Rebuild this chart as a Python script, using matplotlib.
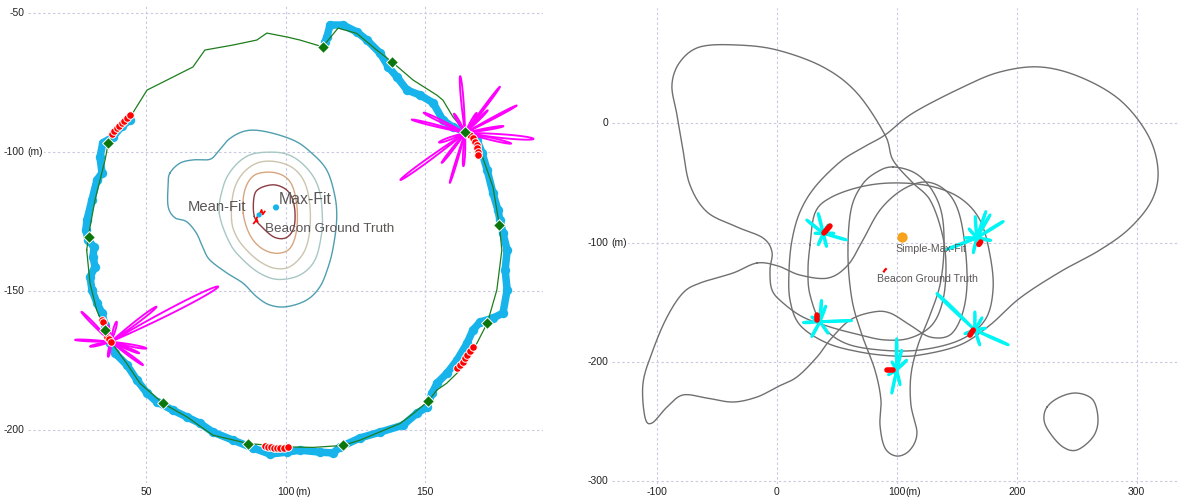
import numpy as np
import matplotlib
matplotlib.use("Agg")
import matplotlib.pyplot as plt
import matplotlib.transforms as mtransforms

plt.rcParams['font.family'] = ['Liberation Sans', 'DejaVu Sans']

# ---------------- left panel: walk around the beacon (metres) ----------------
# planned route (green line) with waypoint markers
route = np.array([
    (28.5, -135.4), (29.2, -130.6), (29.7, -127.2), (31.5, -117.4), (33.3, -110.2),
    (35.1, -103.1), (36.3, -96.8), (45.1, -86.1), (50.2, -77.9), (53.8, -76.1),
    (66.7, -69.6), (71.0, -63.5), (81.1, -61.7), (89.7, -59.9), (93.3, -57.4),
    (100.5, -58.8), (105.2, -59.9), (111.2, -61.7), (113.4, -62.3), (118.9, -55.6),
    (125.6, -57.5), (132.8, -63.5), (138.2, -67.7), (145.9, -74.3), (154.4, -79.7),
    (156.6, -81.5), (160.2, -87.5), (164.6, -92.9), (170.0, -99.5), (174.6, -112.7),
    (176.9, -126.4), (177.8, -135.4), (176.0, -149.8), (172.6, -161.6), (168.8, -169.0),
    (162.8, -178.6), (158.0, -183.3), (154.4, -185.8), (151.4, -189.7), (146.0, -194.2),
    (141.2, -197.8), (134.0, -200.8), (126.8, -203.8), (120.6, -205.7), (109.9, -206.4),
    (100.4, -206.2), (86.6, -205.0), (73.9, -202.0), (64.5, -195.4), (56.0, -190.6),
    (47.7, -183.4), (42.9, -176.2), (37.5, -168.8), (35.1, -164.0), (32.1, -157.0),
    (29.7, -147.4), (28.5, -135.4)])

waypoints = np.array([
    (29.2, -130.6), (36.3, -96.8), (113.4, -62.3), (138.2, -67.7), (164.6, -92.9),
    (176.9, -126.4), (172.6, -161.6), (151.4, -189.7), (120.6, -205.7), (86.6, -205.0),
    (56.0, -190.6), (35.1, -164.0)])

# recorded GPS track (blue)
gps_track = np.array([
    (44.1, -88.7), (41.2, -90.8), (37.9, -94.8), (34.3, -96.9), (33.3, -102.0),
    (34.0, -107.7), (32.2, -110.2), (30.4, -117.4), (28.6, -124.6), (28.2, -128.2),
    (29.0, -131.8), (31.1, -134.3), (30.8, -137.9), (31.5, -141.5), (29.7, -145.1),
    (30.4, -149.8), (32.2, -154.5), (34.0, -158.1), (35.1, -162.4), (36.9, -168.9),
    (38.7, -172.5), (43.0, -176.8), (46.6, -182.2), (50.2, -186.9), (53.8, -190.1),
    (59.5, -193.0), (64.6, -195.5), (69.2, -197.7), (73.9, -200.9), (81.1, -203.8),
    (88.3, -206.6), (94.4, -208.8), (100.5, -208.1), (105.2, -207.4), (112.4, -208.1),
    (117.1, -208.4), (119.6, -206.3), (126.8, -203.0), (134.0, -200.9), (142.3, -198.4),
    (147.3, -194.1), (150.9, -191.9), (152.7, -186.9), (154.5, -183.3), (158.1, -179.7),
    (161.7, -175.0), (165.3, -168.9), (167.4, -164.2), (170.0, -161.3), (174.6, -159.9),
    (178.2, -158.1), (179.7, -149.8), (179.0, -142.6), (179.7, -135.4), (178.2, -129.3),
    (177.1, -124.6), (176.4, -121.0), (174.6, -114.9), (172.5, -106.6), (170.7, -100.5),
    (168.9, -95.9), (165.3, -93.0), (160.2, -91.2), (156.6, -88.7), (153.1, -82.5),
    (148.4, -79.7), (143.7, -77.9), (140.1, -73.2), (137.0, -69.6), (134.0, -64.6),
    (129.3, -59.9), (125.7, -57.0), (120.7, -54.5), (116.0, -54.5), (114.9, -58.8),
    (114.2, -60.6)])

# positions where a measurement was taken (red)
measure_pts = np.array([
    (37.6, -93.7), (38.5, -92.6), (39.4, -91.7), (40.3, -90.8), (41.2, -89.9),
    (42.1, -89.0), (43.0, -88.1), (44.1, -87.0),
    (166.4, -94.1), (167.5, -95.2), (168.2, -96.5), (168.8, -97.7), (169.0, -98.8),
    (169.3, -100.1), (169.3, -101.3),
    (33.9, -160.6), (34.5, -161.2), (35.9, -166.8), (36.5, -167.5), (37.2, -168.5),
    (92.6, -205.9), (93.7, -206.1), (94.8, -206.3), (95.9, -206.5), (96.9, -206.6),
    (98.0, -206.6), (99.5, -206.5), (100.9, -206.3),
    (161.6, -178.0), (162.8, -176.8), (163.7, -175.6), (164.6, -174.4), (165.4, -173.2),
    (166.4, -171.8), (167.5, -170.2)])

# antenna patterns (magenta): centre, then petals (direction deg, length m, half-angle deg)
pattern_centres_left = [(164.6, -93.3), (37.2, -168.4)]
pattern_petals_left = [
    [(95, 20.5, 3.5), (53, 20.8, 2.5), (28, 21.0, 2.5), (-5, 24.7, 4.5), (-13, 17.0, 4),
     (154, 16.6, 4), (166, 19.8, 3), (216, 28.8, 3), (253, 18.8, 2.5), (232, 13.7, 4),
     (267, 12.0, 5), (60, 8.3, 7), (45, 11.5, 4), (10, 14.0, 4), (200, 10.0, 7),
     (120, 8.0, 7)],
    [(27.2, 43.4, 3.5), (37.5, 20.7, 4), (-10.6, 13.0, 5), (-36, 14.3, 4), (-22, 11.0, 5),
     (177, 12.9, 3.5), (193, 7.7, 7), (134.5, 15.1, 4), (74, 7.5, 9), (260, 5.5, 10),
     (100, 6.0, 9)],
]

# likelihood contours of the fitted beacon position (outer -> inner)
contour_outer = np.array([
    (58.4, -107.8), (62.0, -104.2), (66.8, -103.0), (72.8, -102.8), (75.8, -100.0),
    (80.0, -95.3), (86.0, -92.5), (93.2, -92.9), (102.8, -95.9), (108.8, -100.0),
    (114.8, -106.6), (117.8, -116.2), (118.4, -124.6), (117.2, -134.2), (115.4, -141.4),
    (112.4, -148.6), (107.6, -153.4), (100.4, -155.8), (94.4, -155.2), (89.6, -152.2),
    (84.8, -147.4), (78.8, -143.6), (72.8, -139.0), (70.4, -134.8), (68.0, -129.4),
    (64.4, -125.2), (60.2, -123.8), (57.8, -119.8), (57.8, -112.0)])
contour_2 = np.array([
    (76.2, -122.2), (77.6, -112.6), (80.6, -106.6), (85.4, -102.1), (90.8, -100.4),
    (99.2, -100.6), (105.2, -103.6), (110.0, -109.0), (112.4, -115.0), (113.2, -122.2),
    (113.0, -129.4), (110.6, -139.0), (105.2, -144.4), (97.4, -146.0), (90.8, -143.8),
    (84.8, -139.0), (80.0, -133.0)])
contour_3 = np.array([
    (80.6, -124.6), (81.2, -115.0), (84.2, -108.4), (89.6, -104.2), (96.2, -103.6),
    (102.8, -106.0), (107.0, -111.4), (108.8, -119.8), (108.6, -129.4), (106.4, -136.6),
    (101.6, -141.4), (96.2, -142.0), (90.8, -139.6), (86.0, -135.4), (82.4, -130.6)])
contour_4 = np.array([
    (84.8, -122.2), (85.4, -113.8), (89.0, -108.4), (96.2, -107.6), (101.6, -110.8),
    (104.0, -118.6), (104.0, -128.2), (101.6, -134.8), (96.8, -136.6), (91.4, -134.8),
    (87.2, -130.0)])
contour_inner = np.array([
    (88.8, -123.4), (88.7, -116.2), (90.8, -113.2), (96.2, -112.0), (101.0, -114.4),
    (103.2, -119.8), (103.1, -127.0), (100.4, -130.9), (96.2, -130.9), (92.0, -127.6)])
contour_colors = ['#4f9eb0', '#a7c7c3', '#cbc4ae', '#d6a67f', '#8b3b42']

beacon_truth_left = np.array([
    (88.6, -125.8), (89.4, -124.8), (90.0, -125.3), (89.5, -124.0), (90.8, -122.4),
    (91.4, -121.0), (91.8, -122.6), (92.5, -121.6)])
mean_fit = (90.5, -122.8)
max_fit = (96.6, -120.1)

# ---------------- right panel: wider survey ----------------
loop_a = np.array([
    (90.3, -9.8), (96.9, -30.8), (112.7, -49.2), (127.8, -64.3), (137.8, -92.0),
    (141.1, -118.8), (138.6, -148.1), (129.4, -169.1), (111.1, -180.0), (90.3, -181.6),
    (69.4, -177.4), (44.4, -170.7), (21.9, -162.4), (5.3, -150.6), (-3.9, -139.7),
    (-5.6, -123.0), (-3.9, -107.9), (-11.4, -96.1), (-33.1, -86.9), (-58.1, -74.3),
    (-72.3, -51.7), (-78.1, -22.4), (-83.1, 7.0), (-87.3, 32.1), (-80.6, 51.4),
    (-63.9, 64.0), (-33.1, 65.6), (0.3, 61.4), (38.6, 47.2), (66.9, 25.4)])
loop_b = np.array([
    (90.3, -9.8), (113.6, 8.6), (155.3, 30.4), (186.1, 43.0), (219.4, 47.2),
    (252.8, 38.8), (286.1, 19.5), (309.4, -9.8), (317.8, -39.1), (312.8, -64.3),
    (294.4, -87.8), (269.4, -106.2), (236.1, -124.6), (202.8, -146.4), (177.8, -169.1),
    (152.8, -185.8), (119.4, -194.2), (96.9, -195.0), (69.4, -191.7), (41.9, -184.2),
    (19.4, -169.1), (11.1, -148.1), (10.3, -123.0), (12.8, -97.8), (19.4, -74.3),
    (31.9, -53.4), (52.8, -32.4), (71.1, -20.7)])
loop_c = np.array([
    (96.9, -36.6), (115.3, -41.7), (129.4, -55.9), (137.8, -76.9), (139.4, -106.2),
    (136.1, -135.5), (127.8, -160.7), (117.8, -185.8), (111.9, -211.0), (111.9, -236.1),
    (116.9, -259.6), (111.1, -273.8), (100.3, -278.9), (90.3, -272.2), (86.1, -252.9),
    (86.9, -231.9), (81.9, -206.8), (71.1, -177.4), (62.8, -148.1), (59.4, -110.4),
    (61.9, -72.7), (71.1, -51.7), (83.6, -40.8)])
loop_e = np.array([
    (27.8, -102.0), (31.9, -75.2), (44.4, -62.6), (69.4, -53.4), (96.9, -50.0),
    (127.8, -52.6), (152.8, -62.6), (169.4, -81.1), (177.8, -110.4), (180.3, -139.7),
    (173.6, -164.9), (152.8, -181.6), (119.4, -190.0), (86.1, -190.0), (56.9, -184.2),
    (37.8, -169.1), (27.8, -143.9), (26.1, -123.0)])
loop_f = np.array([
    (-16.4, -117.1), (-36.4, -125.5), (-63.9, -133.9), (-78.1, -142.2), (-91.4, -162.4),
    (-103.1, -190.0), (-111.4, -217.7), (-109.8, -246.2), (-103.9, -251.2), (-91.4, -237.8),
    (-78.1, -227.7), (-58.1, -230.3), (-36.4, -233.6), (-16.4, -229.4), (0.3, -221.0),
    (16.9, -212.6), (33.6, -195.9), (44.4, -181.6), (61.1, -164.9), (80.3, -158.2),
    (94.4, -159.0), (111.1, -169.1), (127.8, -179.1), (144.4, -177.4), (154.4, -160.7),
    (158.6, -135.5), (156.9, -102.0), (151.1, -72.7), (140.3, -55.9), (123.6, -49.2),
    (104.4, -55.9), (86.1, -72.7), (71.9, -97.8), (59.4, -118.8), (42.8, -129.7),
    (19.4, -127.2), (1.1, -119.6)])
loop_g = np.array([
    (225.3, -237.8), (236.1, -229.4), (250.3, -226.1), (263.6, -231.9), (267.8, -248.7),
    (263.6, -262.9), (250.3, -273.8), (238.6, -271.3), (227.8, -259.6), (222.8, -248.7)])
survey_loops = [loop_a, loop_b, loop_c, loop_e, loop_f, loop_g]

pattern_centres_right = [(38.8, -92.2), (166.7, -96.1), (36.1, -166.3),
                         (100.0, -206.8), (165.2, -173.3)]
pattern_petals_right = [
    [(104, 17.2, 4), (141, 17.8, 4), (-16, 20.2, 3), (247, 10.6, 6), (284, 11.5, 6),
     (0, 9.0, 7), (180, 7.0, 9), (60, 8.0, 7)],
    [(32, 26.2, 3), (60, 22.4, 3), (94, 18.0, 3), (71, 23.5, 2.5), (201, 26.8, 3),
     (257, 12.8, 5), (180, 10.0, 7), (-10, 12.0, 7), (130, 10.0, 5)],
    [(86, 18.0, 4), (183, 13.9, 5), (2, 26.4, 2.5), (241, 14.3, 5), (305, 11.9, 5),
     (70, 14.0, 4), (150, 8.0, 9)],
    [(90, 26.4, 3), (45, 11.8, 6), (258, 19.9, 3), (283, 12.8, 4), (76, 17.2, 3),
     (120, 8.0, 7), (210, 8.0, 7)],
    [(136, 44.2, 2.5), (-24, 30.5, 2.5), (90, 15.3, 4), (288, 13.2, 4), (10, 9.0, 7),
     (200, 9.0, 7), (60, 12.0, 4)],
]
# short red strokes: measurement positions at each station
station_marks = [
    np.array([(39.4, -91.9), (44.4, -86.1)]),
    np.array([(168.5, -101.5), (170.0, -99.5)]),
    np.array([(33.6, -160.7), (33.6, -164.9)]),
    np.array([(91.7, -206.4), (97.1, -206.4)]),
    np.array([(161.1, -177.5), (163.8, -173.3)]),
]
beacon_truth_right = np.array([(89.4, -124.2), (90.2, -123.0), (91.0, -122.2)])
simple_max_fit = (104.2, -95.1)

# ---------------- helpers ----------------
def smooth_closed(pts, n=14):
    """Closed Catmull-Rom curve through the given points."""
    P = np.asarray(pts, float)
    N = len(P)
    t = np.linspace(0, 1, n, endpoint=False)[:, None]
    segs = []
    for i in range(N):
        p0, p1, p2, p3 = P[i - 1], P[i], P[(i + 1) % N], P[(i + 2) % N]
        segs.append(0.5 * (2 * p1 + (-p0 + p2) * t
                           + (2 * p0 - 5 * p1 + 4 * p2 - p3) * t ** 2
                           + (-p0 + 3 * p1 - 3 * p2 + p3) * t ** 3))
    segs.append(P[:1])
    return np.vstack(segs)


def petal(cx, cy, ang, length, half):
    phi = np.linspace(-half, half, 50)
    r = length * np.cos(np.pi / 2 * phi / half)
    th = np.radians(ang + phi)
    return cx + r * np.cos(th), cy + r * np.sin(th)


GRID = '#c9c9e2'
TXT = '#5b5656'
TICK = '#222222'


def style_axes(ax, xticks, yticks):
    ax.set_xticks(xticks)
    ax.set_yticks(yticks)
    ax.grid(True, color=GRID, linestyle=(0, (2.2, 2.2)), linewidth=0.8)
    ax.set_axisbelow(True)
    ax.tick_params(length=0, labelbottom=False, labelleft=False)
    for s in ax.spines.values():
        s.set_visible(False)


def tick_labels(ax, xticks, yticks, unit_x, unit_y, ypad_px, mpad_pt):
    bbox = dict(facecolor='white', edgecolor='none', pad=1.2)
    tx = mtransforms.blended_transform_factory(ax.transData, ax.transAxes)
    ty = mtransforms.blended_transform_factory(ax.transAxes, ax.transData)
    for v in xticks:
        ax.annotate(f"{v:g}", xy=(v, 0), xycoords=tx, xytext=(0, -ypad_px * 0.72),
                    textcoords='offset points', ha='center', va='center',
                    fontsize=7.5, color=TICK, annotation_clip=False)
        if v == unit_x:
            ax.annotate("(m)", xy=(v, 0), xycoords=tx, xytext=(mpad_pt, -ypad_px * 0.72),
                        textcoords='offset points', ha='left', va='center',
                        fontsize=7.5, color=TICK, annotation_clip=False)
    for v in yticks:
        ax.annotate(f"{v:g}", xy=(0, v), xycoords=ty, xytext=(-2.6, 0),
                    textcoords='offset points', ha='right', va='center',
                    fontsize=7.5, color=TICK, annotation_clip=False, bbox=bbox)
        if v == unit_y:
            ax.annotate("(m)", xy=(0, v), xycoords=ty, xytext=(-0.6, 0),
                        textcoords='offset points', ha='left', va='center',
                        fontsize=7.5, color=TICK, annotation_clip=False, bbox=bbox)


W, H = 1179, 501
fig = plt.figure(figsize=(W / 100, H / 100), dpi=100)

# ---------------- left panel ----------------
axL = fig.add_axes([28 / W, 18 / H, (543 - 28) / W, (483 - 5) / H])
axL.set_xlim(7.4, 192.6)
axL.set_ylim(-219.2, -47.3)
lx_ticks = [50, 100, 150]
ly_ticks = [-50, -100, -150, -200]
style_axes(axL, lx_ticks, ly_ticks)

for pts, col in zip([contour_outer, contour_2, contour_3, contour_4, contour_inner],
                    contour_colors):
    c = smooth_closed(pts)
    axL.plot(c[:, 0], c[:, 1], color=col, lw=1.0, zorder=2)

axL.plot(gps_track[:, 0], gps_track[:, 1], color='#17b4ec', lw=5.4,
         solid_capstyle='round', solid_joinstyle='round', zorder=3)
axL.scatter(gps_track[:, 0], gps_track[:, 1], s=46, color='#17b4ec', linewidths=0, zorder=3)
axL.plot(route[:, 0], route[:, 1], color='#1d7d1d', lw=0.9, zorder=4)

for (cx, cy), petals in zip(pattern_centres_left, pattern_petals_left):
    for ang, ln, hw in petals:
        px, py = petal(cx, cy, ang, ln, hw)
        axL.plot(px, py, color='#ff00ff', lw=1.35, zorder=5)

axL.scatter(measure_pts[:, 0], measure_pts[:, 1], s=30, color='#ff0000',
            edgecolors='white', linewidths=0.7, zorder=6)
axL.scatter(waypoints[:, 0], waypoints[:, 1], marker='D', s=36, color='#0b760b',
            edgecolors='white', linewidths=0.7, zorder=7)

axL.plot(beacon_truth_left[:, 0], beacon_truth_left[:, 1], color='#ff0000', lw=1.3, zorder=6)
axL.scatter([mean_fit[0], max_fit[0]], [mean_fit[1], max_fit[1]], s=[14, 20],
            color='#17b4ec', linewidths=0, zorder=7)
axL.text(97.7, -118.9, "Max-Fit", fontsize=11.4, color=TXT, ha='left', va='baseline', zorder=8)
axL.text(86.0, -121.4, "Mean-Fit", fontsize=10.6, color=TXT, ha='right', va='baseline', zorder=8)
axL.text(92.6, -128.8, "Beacon Ground Truth", fontsize=9.7, color=TXT, ha='left',
         va='baseline', zorder=8)
tick_labels(axL, lx_ticks, ly_ticks, 100, -100, 9, 7.0)

# ---------------- right panel ----------------
axR = fig.add_axes([612 / W, 17 / H, (W - 612) / W, (484 - 8) / H])
axR.set_xlim(-137.25, 335.3)
axR.set_ylim(-302.3, 96.6)
rx_ticks = [-100, 0, 100, 200, 300]
ry_ticks = [0, -100, -200, -300]
style_axes(axR, rx_ticks, ry_ticks)

for loop in survey_loops:
    c = smooth_closed(loop)
    axR.plot(c[:, 0], c[:, 1], color='#707070', lw=1.0, zorder=2)

for (cx, cy), petals in zip(pattern_centres_right, pattern_petals_right):
    for ang, ln, hw in petals:
        px, py = petal(cx, cy, ang, ln, hw)
        axR.plot(px, py, color='#00f5f5', lw=1.9, zorder=4)

for seg in station_marks:
    axR.plot(seg[:, 0], seg[:, 1], color='#ff0000', lw=4.0, solid_capstyle='round', zorder=5)
axR.plot(beacon_truth_right[:, 0], beacon_truth_right[:, 1], color='#ff0000', lw=1.6, zorder=5)
axR.scatter([simple_max_fit[0]], [simple_max_fit[1]], s=55, color='#f6a21d',
            linewidths=0, zorder=6)
axR.text(99.4, -107.6, "Simple-Max-Fit", fontsize=7.6, color=TXT, ha='left',
         va='baseline', zorder=7)
axR.text(83.6, -132.8, "Beacon Ground Truth", fontsize=7.6, color=TXT, ha='left',
         va='baseline', zorder=7)
tick_labels(axR, rx_ticks, ry_ticks, 100, -100, 8, 6.0)

fig.savefig("out.png", dpi=100)
